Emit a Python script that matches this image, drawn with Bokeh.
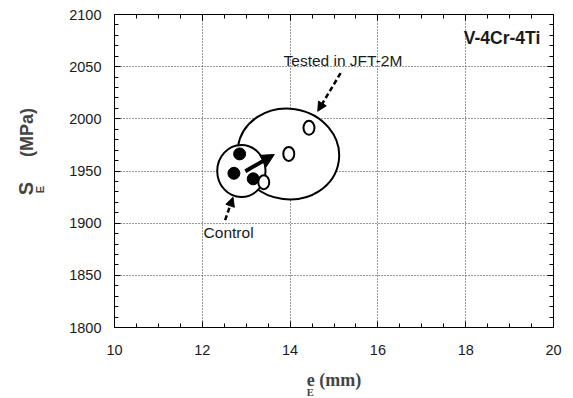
import math
from bokeh.plotting import figure
from bokeh.models import (Range1d, SingleIntervalTicker, LinearAxis, Label, Arrow,
                          NormalHead, CustomJSTickFormatter)
from bokeh.embed import file_html
from bokeh.resources import INLINE

# ---- data ----
control_x = [12.85, 12.72, 13.16]
control_y = [1966.4, 1947.8, 1942.5]
tested_x = [13.40, 13.97, 14.43]
tested_y = [1939.2, 1966.4, 1991.4]

# grouping outlines (centre x, centre y, width mm, height MPa)
big_ell = [13.96, 1966.3, 2.32, 87.0]
small_ell = [12.89, 1950.0, 1.10, 50.0]

# arrows: (x_start, y_start, x_end, y_end)
arrow_shift = [12.98, 1949.8, 13.64, 1965.8]
arrow_tested = [15.15, 2043.8, 14.63, 2007.3]
arrow_control = [12.52, 1903.0, 12.70, 1924.8]

FONT = "Liberation Sans"

p = figure(width=565, height=398, output_backend="svg", toolbar_location=None,
           x_range=Range1d(10, 20), y_range=Range1d(1800, 2100),
           min_border_left=114, min_border_right=12, min_border_top=14, min_border_bottom=71)
p.background_fill_color = "white"
p.border_fill_color = "white"
p.outline_line_color = "black"
p.outline_line_width = 1

xt = SingleIntervalTicker(interval=2, num_minor_ticks=4)
yt = SingleIntervalTicker(interval=50, num_minor_ticks=5)
p.xaxis.ticker = xt
p.yaxis.ticker = yt
p.xgrid.ticker = xt
p.ygrid.ticker = yt

for ax in [p.xaxis[0], p.yaxis[0]]:
    ax.axis_line_color = "black"
    ax.major_tick_in = 6
    ax.major_tick_out = 0
    ax.minor_tick_in = 4
    ax.minor_tick_out = 0
    ax.major_tick_line_color = "black"
    ax.minor_tick_line_color = "black"
    ax.major_label_text_font = FONT
    ax.major_label_text_font_size = "14.5px"
    ax.major_label_text_color = "#1a1a1a"
p.xaxis.major_label_standoff = 17
p.yaxis.major_label_standoff = 13

# x-axis title via the axis itself
p.xaxis.axis_label = "e (mm)"
p.xaxis.axis_label_text_font = "Liberation Serif"
p.xaxis.axis_label_text_font_style = "bold"
p.xaxis.axis_label_text_font_size = "18px"
p.xaxis.axis_label_standoff = 12

blank = CustomJSTickFormatter(code="return ''")
for loc, tk in [("above", xt), ("right", yt)]:
    a = LinearAxis(ticker=tk, major_tick_in=6, major_tick_out=0, minor_tick_in=4,
                   minor_tick_out=0, formatter=blank,
                   major_label_standoff=0, axis_line_color="black")
    p.add_layout(a, loc)

for g in [p.xgrid[0], p.ygrid[0]]:
    g.grid_line_color = "#333333"
    g.grid_line_dash = "1 2"
    g.grid_line_width = 1

# grouping outlines
p.ellipse(x=[big_ell[0]], y=[big_ell[1]], width=[big_ell[2]], height=[big_ell[3]],
          angle=-0.15, fill_color="white", line_color="black", line_width=2)
p.ellipse(x=[small_ell[0]], y=[small_ell[1]], width=[small_ell[2]], height=[small_ell[3]],
          fill_color="white", line_color="black", line_width=2)

# points
p.scatter(control_x, control_y, size=12, marker="circle", fill_color="black", line_color="black")
p.ellipse(x=tested_x, y=tested_y, width=11, height=14, width_units="screen",
          height_units="screen", fill_color="white", line_color="black", line_width=2)

# arrows
p.add_layout(Arrow(end=NormalHead(size=13, fill_color="black", line_color="black"),
                   x_start=arrow_shift[0], y_start=arrow_shift[1],
                   x_end=arrow_shift[2], y_end=arrow_shift[3],
                   line_width=4, line_color="black"))
for a in [arrow_tested, arrow_control]:
    p.add_layout(Arrow(end=NormalHead(size=9, fill_color="black", line_color="black"),
                       x_start=a[0], y_start=a[1], x_end=a[2], y_end=a[3],
                       line_width=2.5, line_color="black", line_dash="5 3"))

# text annotations
p.add_layout(Label(x=13.85, y=2055.9, text="Tested in JFT-2M", text_font=FONT,
                   text_font_size="15.5px", text_align="left", text_baseline="middle",
                   text_color="#1a1a1a"))
p.add_layout(Label(x=12.03, y=1891.5, text="Control", text_font=FONT,
                   text_font_size="15.5px", text_align="left", text_baseline="middle",
                   text_color="#1a1a1a"))
p.add_layout(Label(x=19.70, y=2077.9, text="V-4Cr-4Ti", text_font=FONT,
                   text_font_size="17.5px", text_font_style="bold", text_align="right",
                   text_baseline="middle", text_color="#1a1a1a"))

# y-axis title pieces in the left side panel (not clipped to the frame)
p.add_layout(Label(x=7.973, y=1933.2, text="S", text_font=FONT, text_font_size="20px",
                   text_font_style="bold", angle=math.pi / 2, text_align="center",
                   text_baseline="middle"), "left")
p.add_layout(Label(x=8.292, y=1932.3, text="E", text_font=FONT, text_font_size="11px",
                   text_font_style="bold", angle=math.pi / 2, text_align="center",
                   text_baseline="middle"), "left")
p.add_layout(Label(x=8.018, y=1986.9, text="(MPa)", text_font=FONT, text_font_size="18px",
                   text_font_style="bold", angle=math.pi / 2, text_align="center",
                   text_baseline="middle"), "left")
# x-axis subscript (placed in the top panel, which has room; drawn by data position)
p.add_layout(Label(x=14.46, y=1737.5, text="E", text_font="Liberation Serif",
                   text_font_size="10.5px", text_font_style="bold", text_align="center",
                   text_baseline="middle"), "above")

open("out.html", "w").write(file_html(p, INLINE))
